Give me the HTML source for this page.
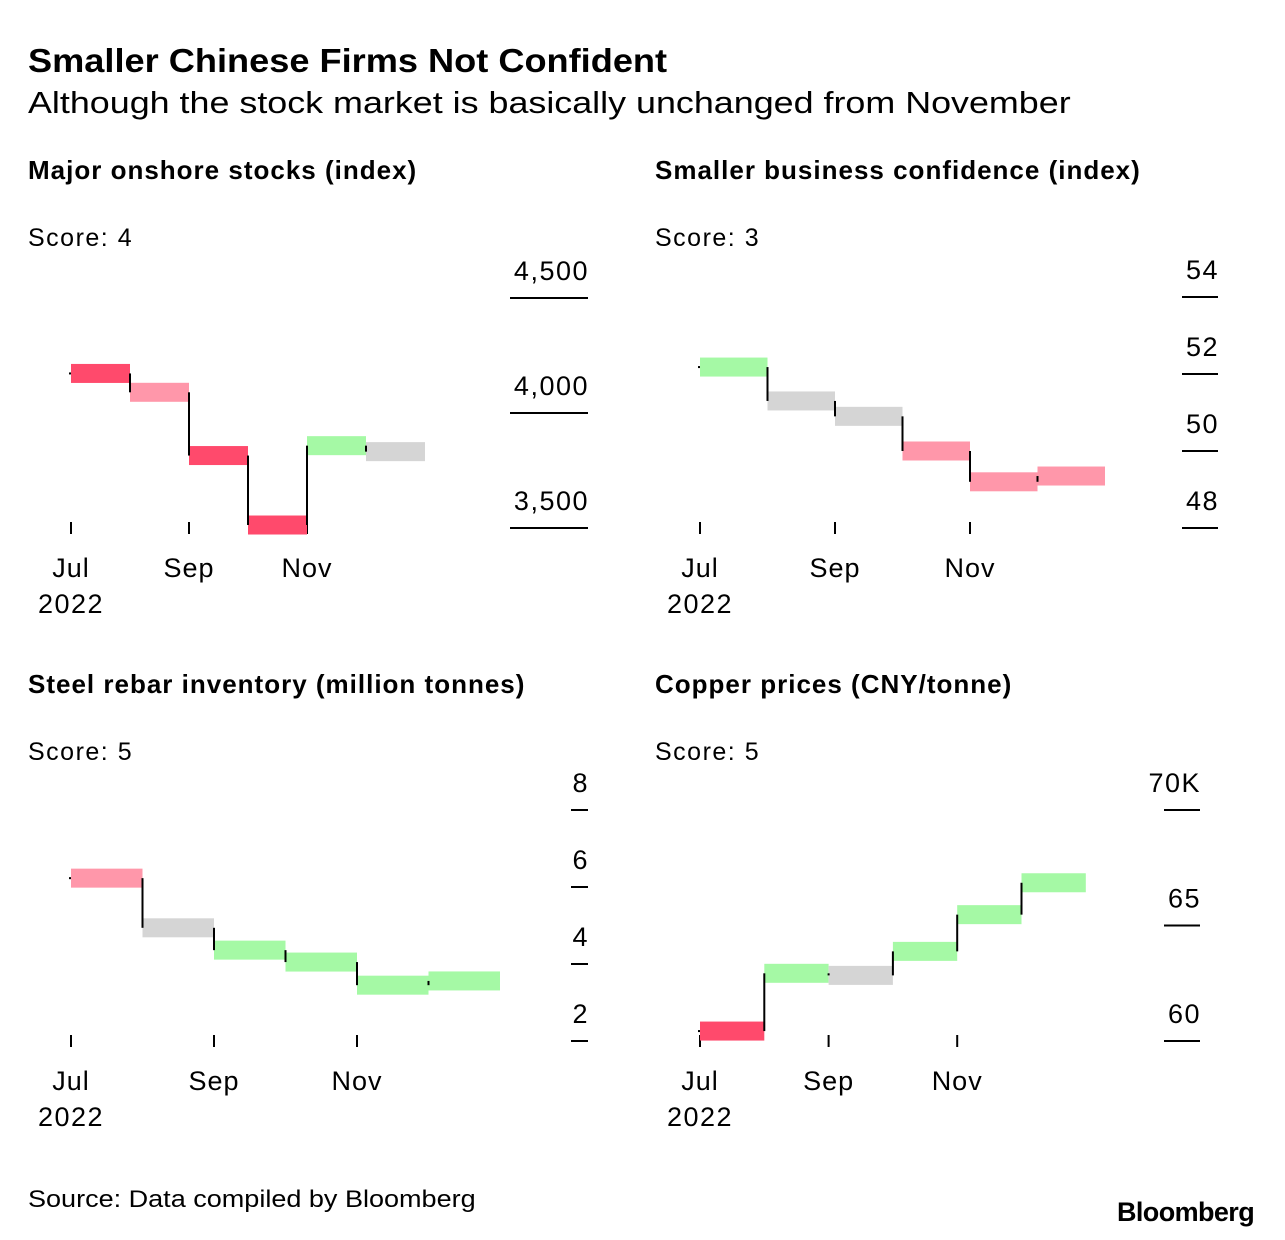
<!DOCTYPE html>
<html><head><meta charset="utf-8">
<style>
html,body{margin:0;padding:0;background:#fff;}
body{width:1285px;height:1240px;position:relative;overflow:hidden;font-family:"Liberation Sans",sans-serif;color:#000;}
.t{position:absolute;white-space:nowrap;transform-origin:0 0;}
</style></head>
<body>
<div class="t" style="left:28px;top:42px;font-size:33px;font-weight:bold;transform:scaleX(1.096);">Smaller Chinese Firms Not Confident</div>
<div class="t" style="left:28px;top:85px;font-size:31px;transform:scaleX(1.157);">Although the stock market is basically unchanged from November</div>
<svg id="c" width="1285" height="1240" style="position:absolute;left:0;top:0"></svg>
<div class="t" style="left:28px;top:1186px;font-size:24px;transform:scaleX(1.126);">Source: Data compiled by Bloomberg</div>
<div class="t" style="left:1117px;top:1197px;font-size:27px;font-weight:bold;letter-spacing:-0.6px;">Bloomberg</div>
<script>
// Panel 1: Major onshore stocks
const stocksValues=[4172,4090,3815,3513,3858,3832];
const stocksStatus=['red','pink','red','red','green','gray'];
const stocksTicks=[3500,4000,4500];
const stocksTickLabels=['3,500','4,000','4,500'];
// Panel 2: Smaller business confidence
const confValues=[52.18,51.3,50.9,50.0,49.2,49.35];
const confStatus=['green','gray','gray','pink','pink','pink'];
const confTicks=[48,50,52,54];
const confTickLabels=['48','50','52','54'];
// Panel 3: Steel rebar inventory
const steelValues=[6.23,4.94,4.36,4.05,3.45,3.56];
const steelStatus=['pink','gray','green','green','green','green'];
const steelTicks=[2,4,6,8];
const steelTickLabels=['2','4','6','8'];
// Panel 4: Copper prices (thousands)
const copperValues=[60.43,62.93,62.84,63.88,65.47,66.85];
const copperStatus=['red','green','gray','green','green','green'];
const copperTicks=[60,65,70];
const copperTickLabels=['60','65','70K'];
const monthLabels=['Jul','Sep','Nov'];
const scores=[4,3,5,5];

const COL={red:'#ff4a6c',pink:'#ff97aa',green:'#a5f9a5',gray:'#d5d5d5'};
const svg=document.getElementById('c');
const NS='http://www.w3.org/2000/svg';
function mk(tag,attrs,name){const e=document.createElementNS(NS,tag);for(const k in attrs)e.setAttribute(k,attrs[k]);


svg.appendChild(e);return e;}
function txt(x,y,s,size,anchor,weight,name,ls){const e=mk('text',{x:x,y:y,'font-size':size,'text-anchor':anchor||'start','font-weight':weight||'normal','font-family':'Liberation Sans, sans-serif',fill:'#000','letter-spacing':ls||0},name);e.textContent=s;return e;}

function panel(o){
  const {values,status,ticks,labels,x0,mw,v0,y0,v1,y1,tickX1,tickX2,title,score,tx,ty,prefix}=o;
  const ys=v=>y0+(v-v0)*(y1-y0)/(v1-v0);
  const xs=i=>x0+i*mw;
  txt(tx,ty,title,26,'start','bold',prefix+'-title',1);
  txt(tx,ty+67,'Score: '+score,25,'start','normal',prefix+'-score',1.5);
  ticks.forEach((t,i)=>{const y=ys(t);
    mk('line',{x1:tickX1,x2:tickX2,y1:y,y2:y,stroke:'#000','stroke-width':2},prefix+'-y-gridtick');
    txt(tickX2+1,y-18,labels[i],27,'end','normal',prefix+'-y-tick-label',1.5);});
  const axisY=ys(ticks[0])+4;
  monthLabels.forEach((m,i)=>{const x=xs(i*2);
    mk('line',{x1:x,x2:x,y1:axisY-10,y2:axisY+2,stroke:'#000','stroke-width':2},prefix+'-x-tick');
    txt(x,axisY+45,m,27,'middle','normal',prefix+'-x-label',1);});
  txt(xs(0),axisY+81,'2022',27,'middle','normal',prefix+'-x-year',1.5);
  values.forEach((v,i)=>{const y=ys(v);
    mk('rect',{x:xs(i),y:y-9.5,width:mw,height:19,fill:COL[status[i]]},prefix+'-bar-'+i);
    const yp=i===0?y:ys(values[i-1]);
    const x=xs(i);
    if(i===0) mk('line',{x1:x-2,x2:x,y1:y,y2:y,stroke:'#000','stroke-width':2},prefix+'-start-mark');
    else mk('line',{x1:x,x2:x,y1:yp,y2:y,stroke:'#000','stroke-width':2},prefix+'-connector-'+i);
  });
}
panel({values:stocksValues,status:stocksStatus,ticks:stocksTicks,labels:stocksTickLabels,x0:71,mw:59,v0:4000,y0:413,v1:3500,y1:528,tickX1:510,tickX2:588,title:'Major onshore stocks (index)',score:scores[0],tx:28,ty:179,prefix:'stocks'});
panel({values:confValues,status:confStatus,ticks:confTicks,labels:confTickLabels,x0:700,mw:67.5,v0:52,y0:374,v1:48,y1:528,tickX1:1182,tickX2:1218,title:'Smaller business confidence (index)',score:scores[1],tx:655,ty:179,prefix:'confidence'});
panel({values:steelValues,status:steelStatus,ticks:steelTicks,labels:steelTickLabels,x0:71,mw:71.5,v0:6,y0:887,v1:2,y1:1041,tickX1:571,tickX2:588,title:'Steel rebar inventory (million tonnes)',score:scores[2],tx:28,ty:693,prefix:'steel'});
panel({values:copperValues,status:copperStatus,ticks:copperTicks,labels:copperTickLabels,x0:700,mw:64.3,v0:60,y0:1041,v1:70,y1:810,tickX1:1164,tickX2:1200,title:'Copper prices (CNY/tonne)',score:scores[3],tx:655,ty:693,prefix:'copper'});
</script>
</body></html>
